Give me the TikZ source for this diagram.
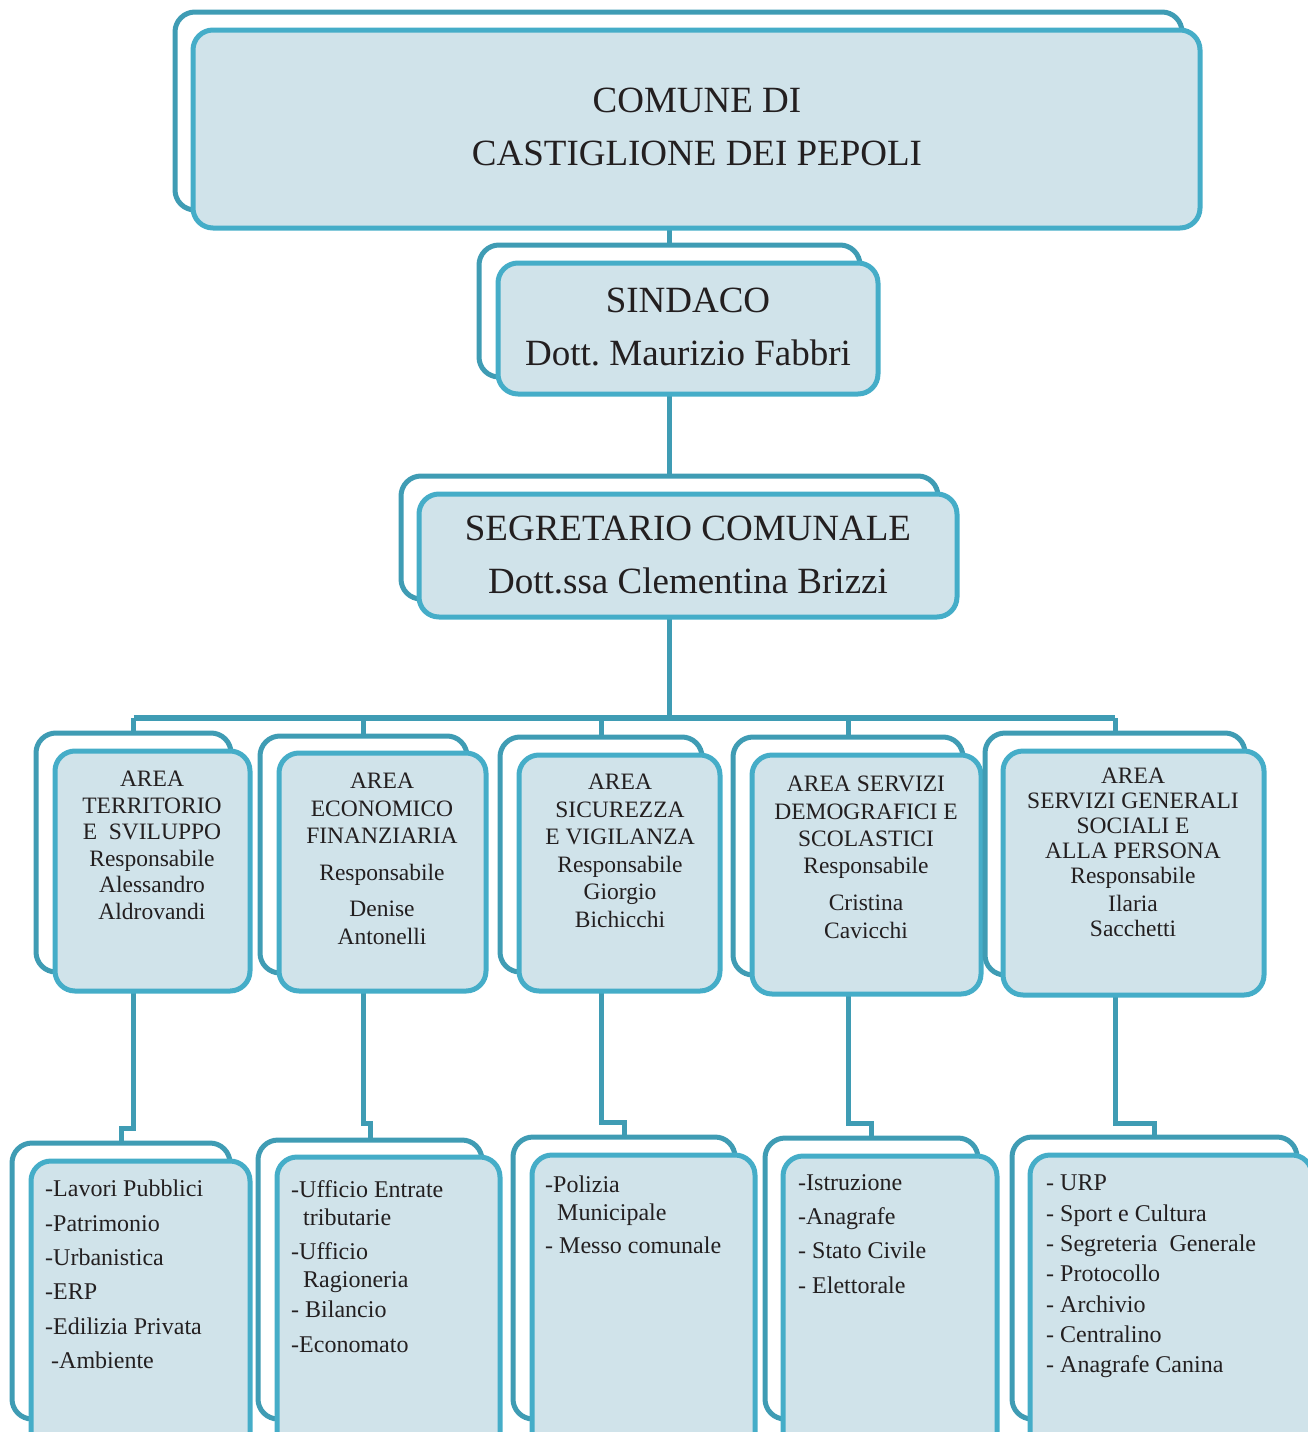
\documentclass[tikz,border=0pt]{standalone}
\usepackage{fontspec}
\setmainfont{Liberation Serif}
\usetikzlibrary{backgrounds}
\definecolor{backline}{HTML}{3F9CB4}
\definecolor{frontline}{HTML}{45ADC8}
\definecolor{boxfill}{HTML}{D0E3EA}
\definecolor{ink}{HTML}{231F20}
\frenchspacing
\tikzset{
 backbox/.style={draw=backline, fill=white, line width=5pt, rounded corners=20pt, inner sep=0pt, outer sep=0pt, anchor=north west},
 frontbox/.style={draw=frontline, fill=boxfill, line width=5pt, rounded corners=20pt, inner sep=0pt, outer sep=0pt, anchor=north west},
 conn/.style={draw=backline, line width=5pt},
 bigtext/.style={text=ink, font=\fontsize{37}{53}\selectfont, align=center, inner sep=0pt},
 areatext/.style={text=ink, align=center, inner sep=0pt, anchor=north},
 listtext/.style={text=ink, align=left, inner sep=0pt, anchor=north west},
}
\begin{document}
\begin{tikzpicture}[x=1pt,y=-1pt]
\useasboundingbox (0,0) rectangle (1308,1432);
\clip (0,0) rectangle (1308,1432);
% top
\node[backbox, minimum width=1007, minimum height=198] (topb) at (175,12) {};
\node[frontbox, minimum width=1007, minimum height=198] (topf) at (193,30) {};
\node[bigtext] (topt) at (697,127) {COMUNE DI\\CASTIGLIONE DEI PEPOLI};
% sindaco
\node[backbox, minimum width=381, minimum height=132] (sinb) at (479,245) {};
\node[frontbox, minimum width=380, minimum height=131] (sinf) at (498,263) {};
\node[bigtext] (sint) at (688,327) {SINDACO\\Dott. Maurizio Fabbri};
% segretario
\node[backbox, minimum width=537, minimum height=123] (segb) at (401,476) {};
\node[frontbox, minimum width=538, minimum height=123] (segf) at (419,494) {};
\node[bigtext] (segt) at (688,555) {SEGRETARIO COMUNALE\\Dott.ssa Clementina Brizzi};
% areas
\node[backbox, minimum width=195, minimum height=239] (a1b) at (36,733) {};
\node[frontbox, minimum width=195, minimum height=240] (a1f) at (55,751) {};
\node[backbox, minimum width=207, minimum height=237] (a2b) at (260,736) {};
\node[frontbox, minimum width=207, minimum height=238] (a2f) at (279,753) {};
\node[backbox, minimum width=202, minimum height=235] (a3b) at (500,737) {};
\node[frontbox, minimum width=201, minimum height=236] (a3f) at (519,755) {};
\node[backbox, minimum width=230, minimum height=238] (a4b) at (733,737) {};
\node[frontbox, minimum width=229, minimum height=239] (a4f) at (752,755) {};
\node[backbox, minimum width=260, minimum height=242] (a5b) at (985,733) {};
\node[frontbox, minimum width=261, minimum height=244] (a5f) at (1003,751) {};
\node[areatext, font=\fontsize{23.5}{26.5}\selectfont] (a1t) at (152,771)
 {AREA\\TERRITORIO\\E\ \ SVILUPPO\\Responsabile\\Alessandro\\Aldrovandi};
\node[areatext, font=\fontsize{23.5}{27.5}\selectfont] (a2t) at (382,773)
 {AREA\\ECONOMICO\\FINANZIARIA\\[9pt]Responsabile\\[9pt]Denise\\Antonelli};
\node[areatext, font=\fontsize{23.5}{27.5}\selectfont] (a3t) at (620,774)
 {AREA\\SICUREZZA\\E VIGILANZA\\Responsabile\\Giorgio\\Bichicchi};
\node[areatext, font=\fontsize{23.5}{27.3}\selectfont] (a4t) at (866,776)
 {AREA SERVIZI\\DEMOGRAFICI E\\SCOLASTICI\\Responsabile\\[10pt]Cristina\\Cavicchi};
\node[areatext, font=\fontsize{23.5}{25}\selectfont] (a5t) at (1133,768)
 {AREA\\SERVIZI GENERALI\\SOCIALI E\\ALLA PERSONA\\Responsabile\\[3pt]Ilaria\\Sacchetti};
% bottom row
\node[backbox, minimum width=218, minimum height=276] (b1b) at (12,1143) {};
\node[frontbox, minimum width=219, minimum height=300] (b1f) at (31,1161) {};
\node[backbox, minimum width=224, minimum height=279] (b2b) at (258,1140) {};
\node[frontbox, minimum width=223, minimum height=300] (b2f) at (277,1157) {};
\node[backbox, minimum width=222, minimum height=282] (b3b) at (513,1137) {};
\node[frontbox, minimum width=223, minimum height=300] (b3f) at (532,1155) {};
\node[backbox, minimum width=213, minimum height=281] (b4b) at (765,1138) {};
\node[frontbox, minimum width=214, minimum height=300] (b4f) at (783,1156) {};
\node[backbox, minimum width=285, minimum height=282] (b5b) at (1012,1137) {};
\node[frontbox, minimum width=282, minimum height=300] (b5f) at (1030,1155) {};
\node[listtext, font=\fontsize{24}{34.3}\selectfont] (b1t) at (45,1180)
 {-Lavori Pubblici\\-Patrimonio\\-Urbanistica\\-ERP\\-Edilizia Privata\\\hspace*{6pt}-Ambiente};
\node[listtext, font=\fontsize{24}{28}\selectfont] (b2t) at (291,1180)
 {-Ufficio Entrate\\\hspace*{12pt}tributarie\\[6pt]-Ufficio\\\hspace*{12pt}Ragioneria\\[2pt]- Bilancio\\[7pt]-Economato};
\node[listtext, font=\fontsize{24}{28}\selectfont] (b3t) at (545,1176)
 {-Polizia\\\hspace*{12pt}Municipale\\[5pt]- Messo comunale};
\node[listtext, font=\fontsize{24}{34.3}\selectfont] (b4t) at (798,1174)
 {-Istruzione\\-Anagrafe\\- Stato Civile\\- Elettorale};
\node[listtext, font=\fontsize{24}{30.3}\selectfont] (b5t) at (1046,1175)
 {- URP\\- Sport e Cultura\\- Segreteria\ \ Generale\\- Protocollo\\- Archivio\\- Centralino\\- Anagrafe Canina};
% connectors
\coordinate (bus) at (670,718);
\begin{scope}[on background layer]
\draw[conn] (sinb.north) -- (sinb.north |- topf.south);
\draw[conn] (segb.north) -- (segb.north |- sinf.south);
\draw[conn] (segb.north |- segf.south) -- (segb.north |- bus);
\draw[conn, line width=6.5pt] (a1b.north |- bus) -- (a5b.north |- bus);
\draw[conn] (a1b.north) -- (a1b.north |- bus);
\draw[conn] (a2b.north) -- (a2b.north |- bus);
\draw[conn] (a3b.north) -- (a3b.north |- bus);
\draw[conn] (a4b.north) -- (a4b.north |- bus);
\draw[conn] (a5b.north) -- (a5b.north |- bus);
\draw[conn] (a1b.north |- a1f.south) -- (a1b.north |- 0,1128) -| (b1b.north);
\draw[conn] (a2b.north |- a2f.south) -- (a2b.north |- 0,1123) -| (b2b.north);
\draw[conn] (a3b.north |- a3f.south) -- (a3b.north |- 0,1122) -| (b3b.north);
\draw[conn] (a4b.north |- a4f.south) -- (a4b.north |- 0,1123) -| (b4b.north);
\draw[conn] (a5b.north |- a5f.south) -- (a5b.north |- 0,1123) -| (b5b.north);
\end{scope}
\end{tikzpicture}
\end{document}
